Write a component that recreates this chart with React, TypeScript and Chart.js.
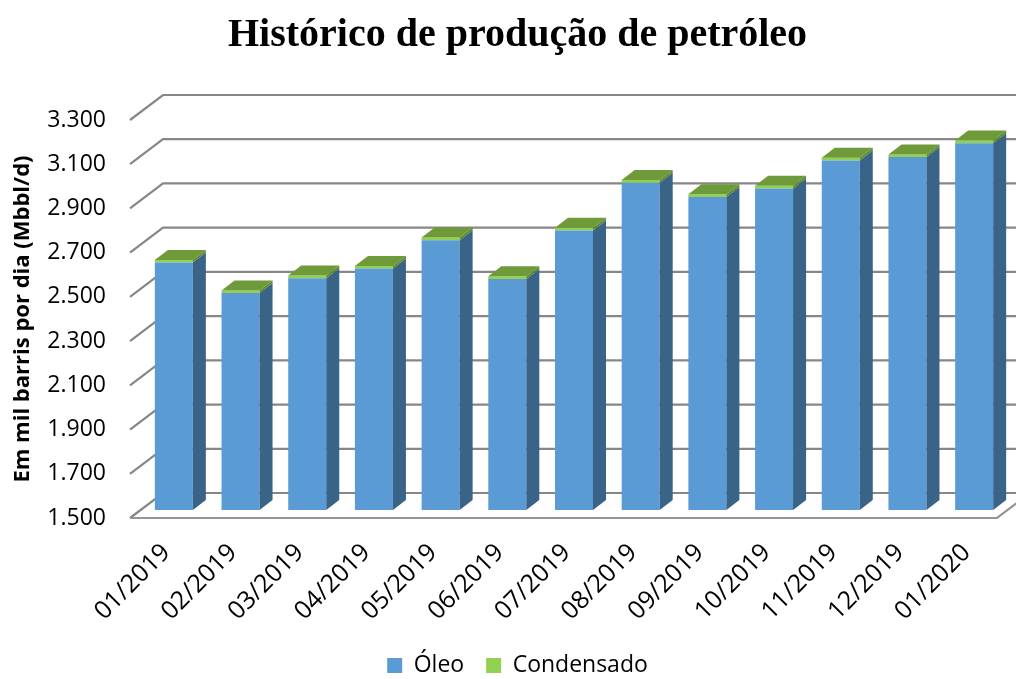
import React, { useEffect, useRef } from 'react';
import { Chart, registerables } from 'chart.js';

Chart.register(...registerables);

const months = ['01/2019', '02/2019', '03/2019', '04/2019', '05/2019', '06/2019', '07/2019', '08/2019', '09/2019', '10/2019', '11/2019', '12/2019', '01/2020'];
const oleo = [2619, 2481, 2548, 2592, 2720, 2545, 2764, 2980, 2916, 2954, 3081, 3096, 3159];
const condensado = [12, 12, 12, 12, 12, 12, 13, 12, 12, 12, 12, 12, 12];
const yTicks = [1500, 1700, 1900, 2100, 2300, 2500, 2700, 2900, 3100, 3300];
const Y_MIN = 1500;
const Y_MAX = 3300;

const WALL_DX = 33;
const WALL_DY = 25;
const BAR_SHIFT_X = 10.5;
const BAR_SHIFT_Y = 8;
const BAR_DX = 13;
const BAR_DY = 10;

const sideColors = ['#3A6388', '#5E8A2E'];
const topColor = '#6E9A3A';

const fmt = (v: number) => {
  const th = Math.floor(v / 1000);
  const rest = String(Math.round(v % 1000)).padStart(3, '0');
  return th + '.' + rest;
};

const threeD = {
  id: 'threeD',
  beforeDatasetsDraw(chart: any) {
    const { ctx, chartArea: a, scales } = chart;
    const y = scales.y;
    ctx.save();
    ctx.strokeStyle = '#878787';
    ctx.lineWidth = 2.2;
    for (const t of yTicks) {
      const py = y.getPixelForValue(t);
      ctx.beginPath();
      ctx.moveTo(a.left, py);
      ctx.lineTo(a.left + WALL_DX, py - WALL_DY);
      ctx.lineTo(a.right + WALL_DX, py - WALL_DY);
      ctx.stroke();
    }
    const fy = y.getPixelForValue(Y_MIN);
    ctx.strokeStyle = '#959595';
    ctx.beginPath();
    ctx.moveTo(a.left, fy);
    ctx.lineTo(a.right, fy);
    ctx.lineTo(a.right + WALL_DX, fy - WALL_DY);
    ctx.stroke();
    ctx.restore();
    ctx.save();
    ctx.translate(BAR_SHIFT_X, -BAR_SHIFT_Y);
  },
  afterDatasetsDraw(chart: any) {
    const { ctx, chartArea: a } = chart;
    const n = chart.data.datasets.length;
    chart.data.datasets.forEach((_ds: any, di: number) => {
      const meta = chart.getDatasetMeta(di);
      meta.data.forEach((bar: any) => {
        const { x, y, base, width } = bar.getProps(['x', 'y', 'base', 'width'], true);
        const left = x - width / 2;
        const right = x + width / 2;
        const bottom = Math.min(base, a.bottom);
        const top = Math.min(y, bottom);
        ctx.fillStyle = sideColors[di];
        ctx.beginPath();
        ctx.moveTo(right, top);
        ctx.lineTo(right + BAR_DX, top - BAR_DY);
        ctx.lineTo(right + BAR_DX, bottom - BAR_DY);
        ctx.lineTo(right, bottom);
        ctx.closePath();
        ctx.fill();
        if (di === n - 1) {
          ctx.fillStyle = topColor;
          ctx.beginPath();
          ctx.moveTo(left, top);
          ctx.lineTo(left + BAR_DX, top - BAR_DY);
          ctx.lineTo(right + BAR_DX, top - BAR_DY);
          ctx.lineTo(right, top);
          ctx.closePath();
          ctx.fill();
        }
      });
    });
    ctx.restore();
  },
};

export default function App() {
  const ref = useRef<HTMLCanvasElement | null>(null);
  useEffect(() => {
    if (!ref.current) return;
    const font = 'Open Sans';
    const chart = new Chart(ref.current, {
      type: 'bar',
      data: {
        labels: months,
        datasets: [
          { label: 'Óleo', data: oleo, backgroundColor: '#5B9BD5', borderWidth: 0, barPercentage: 0.57, categoryPercentage: 1 },
          { label: 'Condensado', data: condensado, backgroundColor: '#92D050', borderWidth: 0, barPercentage: 0.57, categoryPercentage: 1 },
        ],
      },
      options: {
        responsive: false,
        animation: false,
        layout: { padding: { left: 38, right: 19, top: 0, bottom: -8 } },
        plugins: {
          title: {
            display: true,
            text: 'Histórico de produção de petróleo',
            color: '#000',
            font: { family: 'Liberation Serif', size: 40, weight: 'bold' },
            padding: { top: 12, bottom: 60 },
          },
          legend: {
            position: 'bottom',
            labels: {
              boxWidth: 15,
              boxHeight: 15,
              color: '#000',
              padding: 22,
              font: { family: font, size: 23 },
            },
          },
          tooltip: { enabled: false },
        },
        scales: {
          x: {
            stacked: true,
            grid: { display: false, drawTicks: false },
            border: { display: false },
            ticks: {
              autoSkip: false,
              maxRotation: 45,
              minRotation: 45,
              color: '#000',
              padding: 20,
              labelOffset: 3,
              font: { family: font, size: 25 },
            },
            afterFit: (ax: any) => { ax.height = 114; },
          },
          y: {
            stacked: true,
            min: Y_MIN,
            max: Y_MAX,
            grid: { display: false, drawTicks: false },
            border: { display: false },
            afterBuildTicks: (ax: any) => { ax.ticks = yTicks.map((v) => ({ value: v })); },
            afterFit: (ax: any) => { ax.width = 92; },
            ticks: {
              color: '#000',
              padding: 24,
              font: { family: font, size: 23 },
              callback: (v: any) => fmt(Number(v)),
            },
            title: {
              display: true,
              text: 'Em mil barris por dia (Mbbl/d)',
              color: '#000',
              font: { family: font, size: 22, weight: 'bold' },
              padding: { top: -28, bottom: 0 },
            },
          },
        },
      },
      plugins: [threeD],
    });
    return () => chart.destroy();
  }, []);
  return (
    <div style={{ position: 'absolute', left: 0, top: 0, width: 1016, height: 679, background: '#fff' }}>
      <canvas ref={ref} width={1016} height={679} />
    </div>
  );
}
